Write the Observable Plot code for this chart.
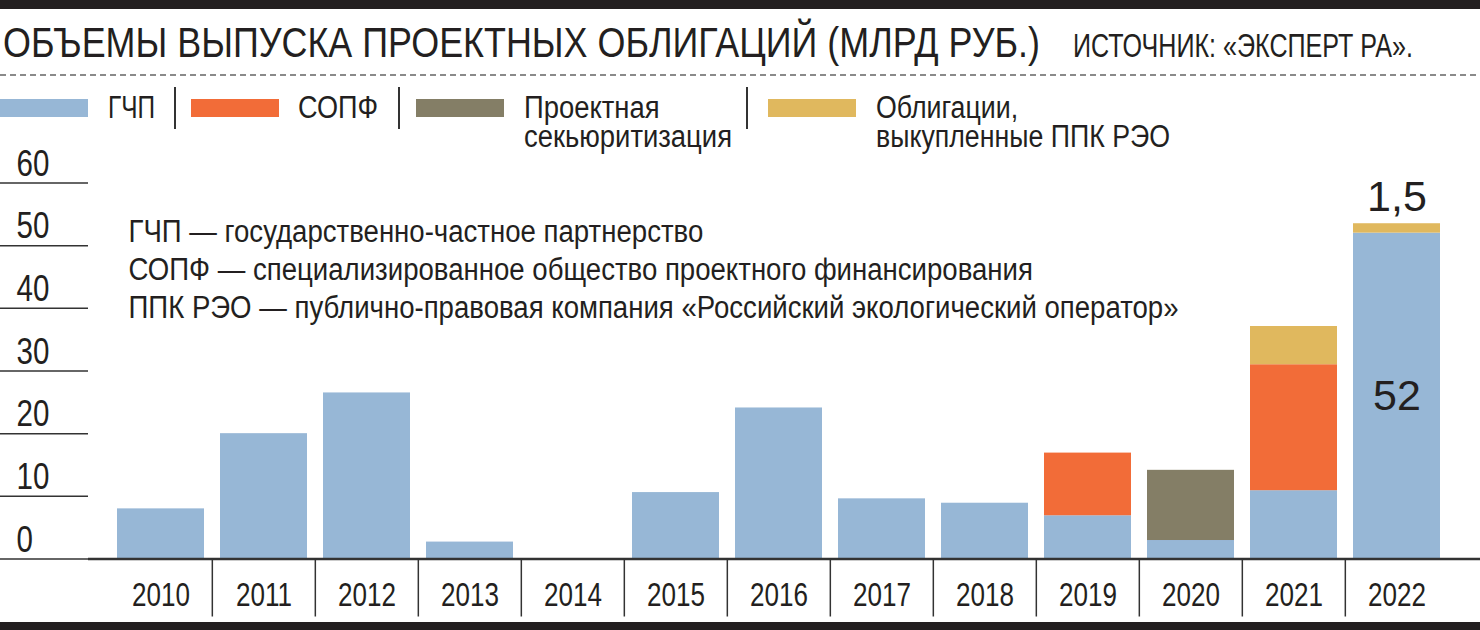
<!DOCTYPE html>
<html>
<head>
<meta charset="utf-8">
<script src="https://cdn.jsdelivr.net/npm/d3@7"></script>
<script src="https://cdn.jsdelivr.net/npm/@observablehq/plot@0.6"></script>
<style>
  html, body { margin: 0; padding: 0; background: #fff; }
  body { width: 1480px; height: 630px; overflow: hidden; position: relative; font-family: "Liberation Sans", Arial, sans-serif; color: #231f20; }
  #header { position: relative; width: 1480px; height: 150px; }
  .abs { position: absolute; white-space: nowrap; }
  .bar { position: absolute; left: 0; width: 1480px; background: #231f20; }
  #title { left: 3px; top: 21.5px; font-size: 42px; line-height: 42px; transform-origin: 0 0; }
  #source { left: 1073px; top: 29px; font-size: 33px; line-height: 33px; transform-origin: 0 0; }
  #dash { left: 0; top: 74px; width: 1480px; height: 2px; background: repeating-linear-gradient(to right, #8a8a8a 0 6px, transparent 6px 10px); }
  .sw { position: absolute; top: 99px; width: 88px; height: 18px; }
  .lt { position: absolute; font-size: 31px; line-height: 29px; top: 93px; white-space: nowrap; transform-origin: 0 0; }
  .sep { position: absolute; top: 87px; width: 1.5px; height: 42px; background: #333; }
  #chart { position: absolute; left: 0; top: 150px; }
</style>
</head>
<body>
<div id="header"></div>
<div id="chart"></div>
<div class="bar" style="top:0;height:9px"></div>
<div class="bar" style="top:622px;height:8px"></div>
<script>
// ---- data ----
const years = ["2010","2011","2012","2013","2014","2015","2016","2017","2018","2019","2020","2021","2022"];
const seriesNames = ["ГЧП", "СОПФ", "Проектная секьюритизация", "Облигации, выкупленные ППК РЭО"];
const legendLabels = ["ГЧП", "СОПФ", "Проектная\nсекьюритизация", "Облигации,\nвыкупленные ППК РЭО"];
const seriesColors = ["#97b7d6", "#f26c38", "#847e66", "#e0b85e"];
const gchp = [8.0, 20.0, 26.5, 2.7, 0, 10.6, 24.1, 9.6, 8.9, 6.9, 2.95, 10.9, 52.0];
const sopf = [0, 0, 0, 0, 0, 0, 0, 0, 0, 10.0, 0, 20.1, 0];
const sekur = [0, 0, 0, 0, 0, 0, 0, 0, 0, 0, 11.2, 0, 0];
const ppk = [0, 0, 0, 0, 0, 0, 0, 0, 0, 0, 0, 6.1, 1.5];
const yTicks = [0, 10, 20, 30, 40, 50, 60];
const titleText = "ОБЪЕМЫ ВЫПУСКА ПРОЕКТНЫХ ОБЛИГАЦИЙ (МЛРД РУБ.)";
const sourceText = "ИСТОЧНИК: «ЭКСПЕРТ РА».";
const notes = [
  "ГЧП — государственно-частное партнерство",
  "СОПФ — специализированное общество проектного финансирования",
  "ППК РЭО — публично-правовая компания «Российский экологический оператор»"
];
const valueLabelYear = "2022";
const valueLabelGchp = "52";
const valueLabelPpk = "1,5";

// ---- header ----
const header = document.getElementById("header");
function add(cls, id, text, style) {
  const d = document.createElement("div");
  d.className = cls;
  if (id) d.id = id;
  if (text != null) d.textContent = text;
  if (style) d.setAttribute("style", style);
  header.appendChild(d);
  return d;
}
// squeeze a block of text horizontally to a target width (condensed typeface look)
function fitWidth(el, target) {
  const w = el.getBoundingClientRect().width;
  el.style.transform = `scaleX(${target / w})`;
}
const titleEl = add("abs", "title", titleText);
const sourceEl = add("abs", "source", sourceText);
add("abs", "dash", null);
const swX = [0, 191, 416, 768];
const txtX = [108, 298, 524, 876];
const txtW = [47, 80, 208, 294];
const sepX = [174, 398, 746];
const legendEls = [];
seriesNames.forEach((s, i) => {
  add("sw", null, null, `left:${swX[i]}px;background:${seriesColors[i]}`);
  const t = add("lt", null, null, `left:${txtX[i]}px`);
  t.innerHTML = legendLabels[i].split("\n").join("<br>");
  legendEls.push(t);
});
sepX.forEach(x => add("sep", null, null, `left:${x}px`));
fitWidth(titleEl, 1037);
fitWidth(sourceEl, 340);
legendEls.forEach((el, i) => fitWidth(el, txtW[i]));

// ---- chart ----
const seriesValues = [gchp, sopf, sekur, ppk];
const rows = [];
years.forEach((y, j) => seriesNames.forEach((s, i) => rows.push({year: y, series: s, value: seriesValues[i][j]})));

const xRange = [106.7, 1450.3];
const step = (xRange[1] - xRange[0]) / years.length;
const j22 = years.indexOf(valueLabelYear);

const chart = Plot.plot({
  width: 1480,
  height: 480,
  marginTop: 32.5,
  marginBottom: 71.5,
  marginLeft: 88,
  marginRight: 0,
  style: {fontFamily: "'Liberation Sans', Arial, sans-serif", color: "#231f20", background: "transparent", overflow: "visible"},
  x: {domain: years, range: xRange, paddingInner: 0.16, paddingOuter: 0.08, axis: null, label: null},
  y: {domain: [0, 60], axis: null, label: null},
  color: {domain: seriesNames, range: seriesColors},
  marks: [
    Plot.barY(rows, {x: "year", y: "value", fill: "series"}),
    Plot.ruleY([0], {stroke: "#333", strokeWidth: 2.5}),
    // y tick lines
    Plot.axisY(yTicks, {anchor: "left", label: null, tickSize: 88, tickFormat: () => "", color: "#333", strokeWidth: 1.5}),
    // y labels
    Plot.text(yTicks, {y: d => d, text: d => String(d), frameAnchor: "left", dx: -72, dy: -19, textAnchor: "start", fontSize: 36, fill: "#231f20", className: "cond-y"}),
    // category separators
    Plot.axisX(years.slice(1), {anchor: "bottom", label: null, tickSize: 58, dx: -step / 2, tickFormat: () => "", color: "#333", strokeWidth: 1.5}),
    // year labels
    Plot.axisX(years, {anchor: "bottom", label: null, tickSize: 0, tickPadding: 22.5, fontSize: 34, color: "#231f20", className: "cond-x"}),
    // notes
    Plot.text([notes.join("\n")], {frameAnchor: "top-left", dx: 40, dy: 32.5, lineAnchor: "top", lineHeight: 38 / 31, fontSize: 31, textAnchor: "start", fill: "#231f20", className: "cond-notes"}),
    // value labels
    Plot.text([valueLabelGchp], {x: () => valueLabelYear, y: () => gchp[j22] / 2, text: d => d, fontSize: 43, fill: "#231f20"}),
    Plot.text([valueLabelPpk], {x: () => valueLabelYear, y: () => gchp[j22] + ppk[j22], text: d => d, lineAnchor: "bottom", dy: -13, fontSize: 43, fill: "#231f20"})
  ]
});
document.getElementById("chart").appendChild(chart);

// condensed look for SVG texts: compress glyphs with textLength
function condense(selector, k) {
  chart.querySelectorAll(selector + " text").forEach(t => {
    const spans = t.querySelectorAll("tspan");
    const targets = spans.length ? Array.from(spans) : [t];
    targets.forEach(el => {
      const n = el.getComputedTextLength();
      if (n > 0) {
        el.setAttribute("textLength", (n * k).toFixed(2));
        el.setAttribute("lengthAdjust", "spacingAndGlyphs");
      }
    });
  });
}
function ratioFor(selector, target, pick) {
  const els = Array.from(chart.querySelectorAll(selector + " text, " + selector + " tspan"));
  const el = pick(els);
  return el ? target / el.getComputedTextLength() : 0.82;
}
const kYears = ratioFor(".cond-x", 58, els => els.find(e => e.textContent === "2010"));
const kNotes = ratioFor(".cond-notes", 1050, els => els.filter(e => e.tagName === "tspan").pop());
condense(".cond-x", kYears);
condense(".cond-notes", kNotes);
condense(".cond-y", 0.82);
</script>
</body>
</html>
